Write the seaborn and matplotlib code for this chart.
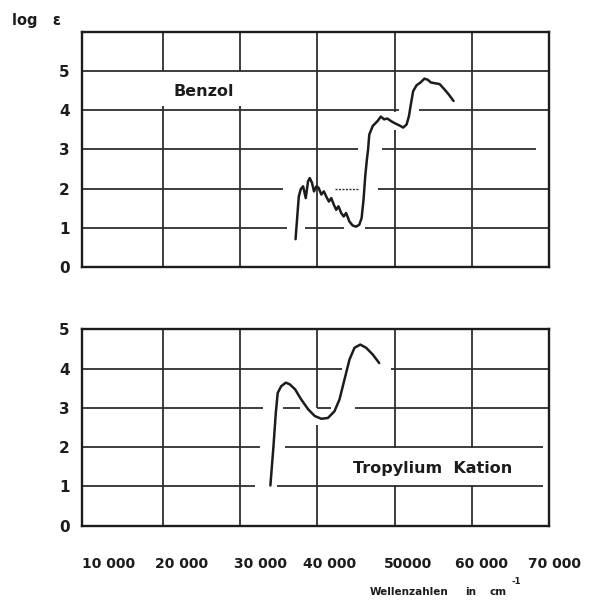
import matplotlib
matplotlib.use("Agg")
import matplotlib.pyplot as plt
import matplotlib.transforms as mtransforms
import pandas as pd
import seaborn as sns

# ---------------- data ----------------
benzol_wavenumber = [37160, 37580, 37840, 38140, 38480, 38780, 39000, 39290, 39550, 39860,
                     40150, 40500, 40830, 41140, 41480, 41790, 42120, 42430, 42720, 43070,
                     43400, 43710, 44140, 44560, 45000, 45420, 45720, 45970, 46190, 46400,
                     46560, 46710, 47160, 47800, 48210, 48630, 49060, 49490, 49920, 50560,
                     51110, 51550, 51850, 52140, 52400, 52840, 53350, 53860, 54290, 54710,
                     55280, 55830, 56340, 56990, 57630]
benzol_log_eps = [0.71, 1.80, 1.99, 2.06, 1.76, 2.19, 2.27, 2.15, 1.93, 2.06,
                  2.02, 1.85, 1.93, 1.80, 1.67, 1.76, 1.59, 1.46, 1.55, 1.38,
                  1.29, 1.38, 1.16, 1.06, 1.03, 1.08, 1.25, 1.72, 2.32, 2.74,
                  3.00, 3.38, 3.60, 3.73, 3.84, 3.77, 3.79, 3.73, 3.68, 3.62,
                  3.56, 3.64, 3.85, 4.20, 4.49, 4.64, 4.71, 4.81, 4.78, 4.71,
                  4.69, 4.67, 4.56, 4.41, 4.24]

tropylium_wavenumber = [33900, 34300, 34600, 34850, 35300, 35900, 36400, 37100, 37900, 38800,
                        39650, 40500, 41350, 42200, 42850, 43500, 44150, 44800, 45550, 46300,
                        47150, 48000]
tropylium_log_eps = [1.02, 2.02, 2.87, 3.38, 3.55, 3.64, 3.60, 3.47, 3.21, 2.96,
                     2.79, 2.72, 2.74, 2.91, 3.21, 3.72, 4.23, 4.53, 4.61, 4.53,
                     4.36, 4.14]

x_ticks = [10000, 20000, 30000, 40000, 50000, 60000, 70000]
x_tick_labels = ["10 000", "20 000", "30 000", "40 000", "50000", "60 000", "70 000"]
y_ticks = [0, 1, 2, 3, 4, 5]
y_tick_labels = ["0", "1", "2", "3", "4", "5"]

# ---------------- styling / layout ----------------
INK = "#1c1c1c"
GRID = "#2e2e2e"
XMIN, XMAX = 9490, 69865

# hand-drawn grid segments with gaps (y, x0, x1) / (x, y0, y1)
top_h = [(5, XMIN, XMAX), (4, XMIN, 50600), (4, 53100, XMAX),
         (3, XMIN, 45200), (3, 48400, 68300), (2, XMIN, 35500), (2, 47900, XMAX),
         (1, XMIN, 36000), (1, 38350, 43500), (1, 46200, XMAX)]
top_dotted = [(2, 42300, 45400)]
top_v = [(20000, 5, 6), (20000, 0, 4.1), (30000, 5, 6), (30000, 0, 4.1),
         (40000, 0, 6), (50000, 0, 3.5), (50000, 3.95, 6), (60000, 0, 6)]
bot_h = [(4, XMIN, 43200), (4, 49500, XMAX), (3, XMIN, 33000), (3, 35500, 37700),
         (3, 40000, 41800), (3, 44800, XMAX), (2, XMIN, 32600), (2, 35800, 69200),
         (1, XMIN, 31900), (1, 34700, 69200)]
bot_v = [(20000, 0, 5), (30000, 0, 5), (40000, 3.0, 5), (40000, 0, 2.55),
         (50000, 1.97, 5), (50000, 0, 1.03), (60000, 1.97, 5), (60000, 0, 1.03)]
# per-label horizontal nudges (pixels) of the hand-lettered x labels
x_label_nudge_px = [23, 18, 20, 12, 13, 10, 6]

sns.set_style("white")
plt.rcParams["font.family"] = ["DejaVu Sans"]
plt.rcParams["font.weight"] = "bold"

W, H = 596, 602
fig = plt.figure(figsize=(W / 100, H / 100), dpi=100)
fig.patch.set_facecolor("white")
ax1 = fig.add_axes([82 / W, 1 - 267 / H, 467 / W, 235 / H])
ax2 = fig.add_axes([82 / W, 1 - 525.5 / H, 467 / W, 196.2 / H])


def draw_grid(ax, hsegs, vsegs, dotted=()):
    for y, x0, x1 in hsegs:
        ax.hlines(y, x0, x1, colors=GRID, lw=1.3, zorder=1)
    for x, y0, y1 in vsegs:
        ax.vlines(x, y0, y1, colors=GRID, lw=1.3, zorder=1)
    for y, x0, x1 in dotted:
        ax.hlines(y, x0, x1, colors=GRID, lw=1.0, linestyles=(0, (1.5, 1)), zorder=1)


def style_axis(ax, ymax):
    ax.set_xlim(XMIN, XMAX)
    ax.set_ylim(0, ymax)
    ax.set_yticks(y_ticks)
    ax.set_yticklabels(y_tick_labels, fontsize=11, fontweight="bold", color=INK)
    ax.tick_params(axis="both", length=0)
    ax.tick_params(axis="y", pad=9)
    ax.set_xlabel("")
    ax.set_ylabel("")
    ax.grid(False)
    for sp in ax.spines.values():
        sp.set_visible(True)
        sp.set_color(INK)
        sp.set_linewidth(1.7)
    ax.set_facecolor("white")


df_b = pd.DataFrame({"w": benzol_wavenumber, "loge": benzol_log_eps})
df_t = pd.DataFrame({"w": tropylium_wavenumber, "loge": tropylium_log_eps})

draw_grid(ax1, top_h, top_v, top_dotted)
sns.lineplot(data=df_b, x="w", y="loge", ax=ax1, color=INK, lw=1.8,
             estimator=None, sort=False, zorder=3)
style_axis(ax1, 6)
ax1.set_xticks(x_ticks)
ax1.set_xticklabels([])
ax1.text(21300, 4.49, "Benzol", fontsize=11.5, fontweight="bold", color=INK,
         ha="left", va="center")

draw_grid(ax2, bot_h, bot_v)
sns.lineplot(data=df_t, x="w", y="loge", ax=ax2, color=INK, lw=1.8,
             estimator=None, sort=False, zorder=3)
style_axis(ax2, 5)
ax2.set_xticks(x_ticks)
ax2.set_xticklabels(x_tick_labels, fontsize=10, fontweight="bold", color=INK)
ax2.tick_params(axis="x", pad=23)
for lab, dx in zip(ax2.get_xticklabels(), x_label_nudge_px):
    lab.set_transform(lab.get_transform() +
                      mtransforms.ScaledTranslation(dx / 100, 0, fig.dpi_scale_trans))
ax2.text(44600, 1.44, "Tropylium  Kation", fontsize=11.5, fontweight="bold", color=INK,
         ha="left", va="center")

fig.text(12 / W, 1 - 21 / H, "log   ε", fontsize=10.5, fontweight="bold", color=INK,
         ha="left", va="center")
fig.text(370 / W, 1 - 592 / H, "Wellenzahlen", fontsize=7.5,
         fontweight="bold", color=INK, ha="left", va="center")
fig.text(465 / W, 1 - 592 / H, "in", fontsize=7.5,
         fontweight="bold", color=INK, ha="left", va="center")
fig.text(490 / W, 1 - 592 / H, "cm", fontsize=7.5,
         fontweight="bold", color=INK, ha="left", va="center")
fig.text(511 / W, 1 - 581 / H, "-1", fontsize=6,
         fontweight="bold", color=INK, ha="left", va="center")

fig.savefig("out.png", dpi=100, facecolor="white")
